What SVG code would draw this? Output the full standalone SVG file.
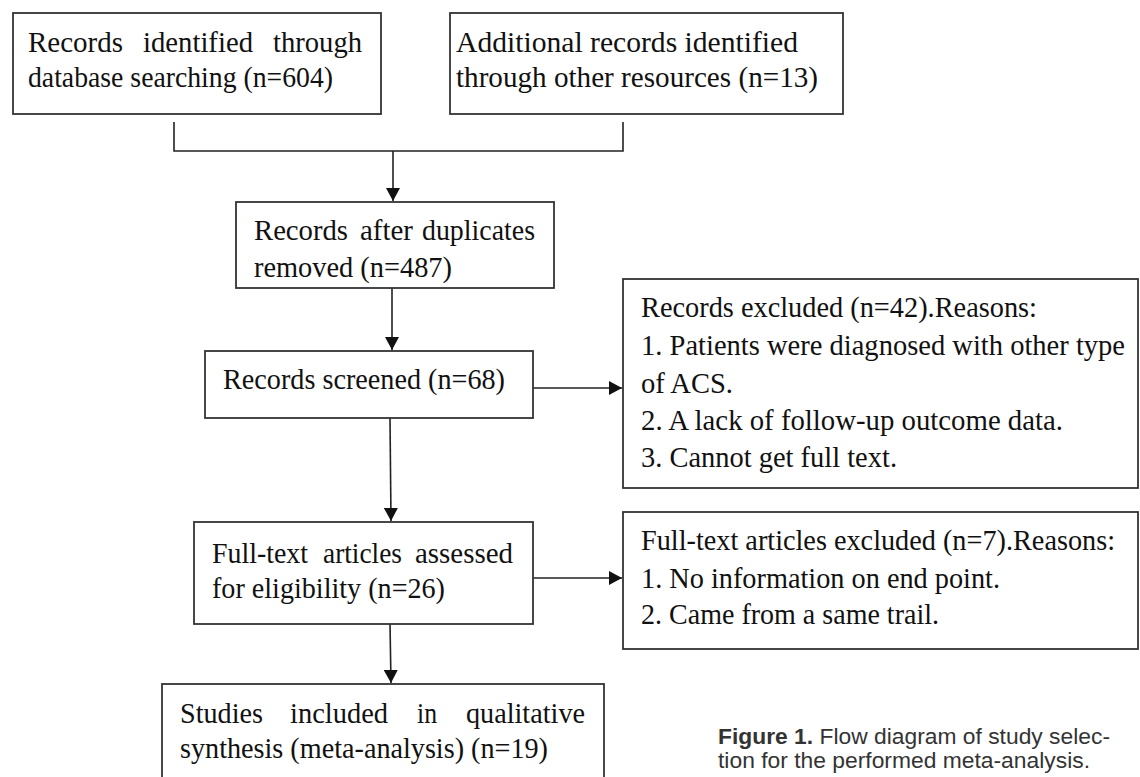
<svg xmlns="http://www.w3.org/2000/svg" width="1140" height="777" viewBox="0 0 1140 777">
<style>
.box{fill:#fff;stroke:#333;stroke-width:1.8}
.t{font-family:"Liberation Serif","Times New Roman",serif;font-size:29px;fill:#111}
.ln{fill:none;stroke:#222;stroke-width:1.6}
.cap{font-family:"Liberation Sans",Arial,sans-serif;font-size:22px;fill:#333}
</style>
<defs>
<marker id="ah" markerUnits="userSpaceOnUse" markerWidth="14" markerHeight="14" viewBox="0 0 14 14" refX="13" refY="7" orient="auto">
<path d="M0,0 L13,7 L0,14 Z" fill="#111"/>
</marker>
</defs>
<rect width="1140" height="777" fill="#fff"/>
<g id="connectors">
<polyline class="ln" points="174,122 174,151 623,151 623,122"/>
<line class="ln" x1="393" y1="151" x2="393" y2="201" marker-end="url(#ah)"/>
<line class="ln" x1="392" y1="288" x2="392" y2="350" marker-end="url(#ah)"/>
<line class="ln" x1="533" y1="388" x2="622" y2="388" marker-end="url(#ah)"/>
<line class="ln" x1="390" y1="418" x2="391" y2="521" marker-end="url(#ah)"/>
<line class="ln" x1="533" y1="578" x2="622" y2="578" marker-end="url(#ah)"/>
<line class="ln" x1="390" y1="624" x2="391" y2="683" marker-end="url(#ah)"/>
</g>
<g id="n1">
<rect class="box" x="13" y="13" width="368" height="101"/>
<text class="t" x="28" y="52" textLength="95" lengthAdjust="spacingAndGlyphs">Records</text>
<text class="t" x="143" y="52" textLength="110" lengthAdjust="spacingAndGlyphs">identified</text>
<text class="t" x="273" y="52" textLength="89" lengthAdjust="spacingAndGlyphs">through</text>
<text class="t" x="28" y="87" textLength="305" lengthAdjust="spacingAndGlyphs">database searching (n=604)</text>
</g>
<g id="n2">
<rect class="box" x="450" y="13" width="393" height="101"/>
<text class="t" x="456" y="52" textLength="342" lengthAdjust="spacingAndGlyphs">Additional records identified</text>
<text class="t" x="456" y="87" textLength="362" lengthAdjust="spacingAndGlyphs">through other resources (n=13)</text>
</g>
<g id="n3">
<rect class="box" x="236" y="202" width="318" height="86"/>
<text class="t" x="254" y="240" textLength="94" lengthAdjust="spacingAndGlyphs">Records</text>
<text class="t" x="360" y="240" textLength="53" lengthAdjust="spacingAndGlyphs">after</text>
<text class="t" x="422" y="240" textLength="113" lengthAdjust="spacingAndGlyphs">duplicates</text>
<text class="t" x="254" y="277" textLength="198" lengthAdjust="spacingAndGlyphs">removed (n=487)</text>
</g>
<g id="n4">
<rect class="box" x="205" y="351" width="328" height="67"/>
<text class="t" x="223" y="389" textLength="282" lengthAdjust="spacingAndGlyphs">Records screened (n=68)</text>
</g>
<g id="n5">
<rect class="box" x="623" y="279" width="515" height="209"/>
<text class="t" x="641" y="317" textLength="396" lengthAdjust="spacingAndGlyphs">Records excluded (n=42).Reasons:</text>
<text class="t" x="641" y="355" textLength="484" lengthAdjust="spacingAndGlyphs">1. Patients were diagnosed with other type</text>
<text class="t" x="641" y="393" textLength="92" lengthAdjust="spacingAndGlyphs">of ACS.</text>
<text class="t" x="641" y="430" textLength="422" lengthAdjust="spacingAndGlyphs">2. A lack of follow-up outcome data.</text>
<text class="t" x="641" y="467" textLength="256" lengthAdjust="spacingAndGlyphs">3. Cannot get full text.</text>
</g>
<g id="n6">
<rect class="box" x="194" y="522" width="339" height="102"/>
<text class="t" x="212" y="563" textLength="96" lengthAdjust="spacingAndGlyphs">Full-text</text>
<text class="t" x="323" y="563" textLength="79" lengthAdjust="spacingAndGlyphs">articles</text>
<text class="t" x="415" y="563" textLength="98" lengthAdjust="spacingAndGlyphs">assessed</text>
<text class="t" x="212" y="598" textLength="233" lengthAdjust="spacingAndGlyphs">for eligibility (n=26)</text>
</g>
<g id="n7">
<rect class="box" x="623" y="512" width="515" height="137"/>
<text class="t" x="641" y="550" textLength="474" lengthAdjust="spacingAndGlyphs">Full-text articles excluded (n=7).Reasons:</text>
<text class="t" x="641" y="588" textLength="359" lengthAdjust="spacingAndGlyphs">1. No information on end point.</text>
<text class="t" x="641" y="624" textLength="298" lengthAdjust="spacingAndGlyphs">2. Came from a same trail.</text>
</g>
<g id="n8">
<rect class="box" x="162" y="684" width="442" height="110"/>
<text class="t" x="180" y="723" textLength="83" lengthAdjust="spacingAndGlyphs">Studies</text>
<text class="t" x="290" y="723" textLength="98" lengthAdjust="spacingAndGlyphs">included</text>
<text class="t" x="417" y="723" textLength="20" lengthAdjust="spacingAndGlyphs">in</text>
<text class="t" x="466" y="723" textLength="119" lengthAdjust="spacingAndGlyphs">qualitative</text>
<text class="t" x="180" y="758" textLength="368" lengthAdjust="spacingAndGlyphs">synthesis (meta-analysis) (n=19)</text>
</g>
<g id="caption">
<text class="cap" x="718" y="744" textLength="392" lengthAdjust="spacingAndGlyphs"><tspan font-weight="bold">Figure 1.</tspan> Flow diagram of study selec-</text>
<text class="cap" x="718" y="768" textLength="372" lengthAdjust="spacingAndGlyphs">tion for the performed meta-analysis.</text>
</g>
</svg>
